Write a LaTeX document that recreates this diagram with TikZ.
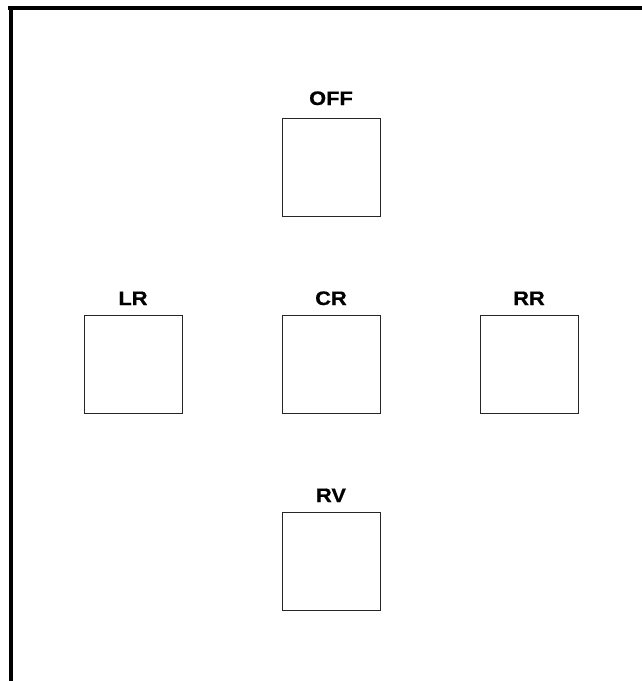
\documentclass[tikz,border=0pt]{standalone}
\usepackage{fontspec}
\setmainfont{Liberation Sans}
\newfontfamily\keyfont[FakeStretch=1.12,FakeBold=0.6]{Liberation Sans Bold}
\begin{document}
\begin{tikzpicture}[x=1pt,y=-1pt,
  keybox/.style={draw=black!85,line width=1.1pt,minimum width=98pt,minimum height=98pt,inner sep=0pt,anchor=north west},
  keylabel/.style={font=\fontsize{19.5}{19.5}\keyfont,inner sep=0pt,anchor=base},
  frame/.style={line width=4pt}]
\useasboundingbox (0,0) rectangle (642,681);
\fill[white] (0,0) rectangle (642,681);
\coordinate (tr) at (642,8);
\coordinate (bl) at (11,681);
\draw[frame] (8,8) -- (tr);
\draw[frame] (11,6) -- (bl);
\node[keybox] (off) at (282,117.5) {};
\node[keybox] (lr) at (84,315) {};
\node[keybox] (cr) at (282,315) {};
\node[keybox] (rr) at (480,315) {};
\node[keybox] (rv) at (282,512) {};
\node[keylabel] (offl) at (331,105) {OFF};
\node[keylabel] (lrl) at (133,305) {LR};
\node[keylabel] (crl) at (331,305) {CR};
\node[keylabel] (rrl) at (529,305) {RR};
\node[keylabel] (rvl) at (331,502) {RV};
\end{tikzpicture}
\end{document}
